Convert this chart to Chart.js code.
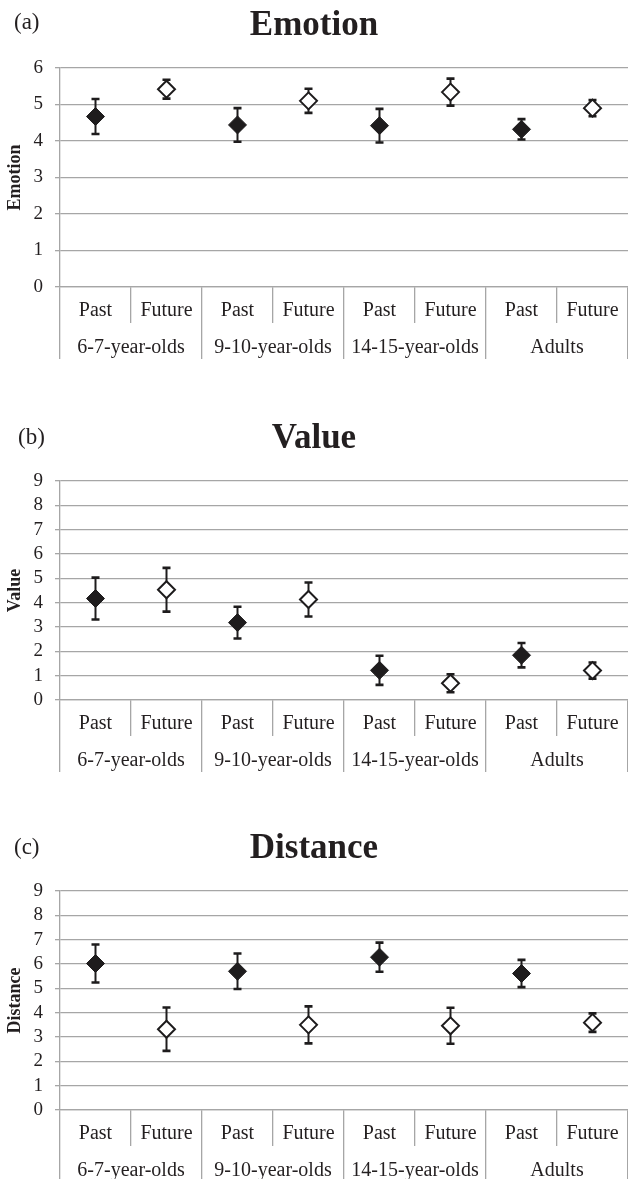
<!DOCTYPE html>
<html><head><meta charset="utf-8">
<script src="https://cdn.jsdelivr.net/npm/chart.js@4"></script>
<style>
html,body{margin:0;padding:0;background:#fff;width:628px;height:1179px;overflow:hidden;}
.panel{position:absolute;left:0;width:628px;height:359px;}
.tag{position:absolute;font-family:"Liberation Serif","Times New Roman",serif;font-size:23px;line-height:26px;color:#231f20;}
</style></head><body>
<div class="panel" style="top:0px"><canvas id="cA" width="628" height="359"></canvas></div>
<div class="panel" style="top:413px"><canvas id="cB" width="628" height="359"></canvas></div>
<div class="panel" style="top:823px"><canvas id="cC" width="628" height="359"></canvas></div>
<div class="tag" style="left:14px;top:9px">(a)</div>
<div class="tag" style="left:18px;top:424px">(b)</div>
<div class="tag" style="left:14px;top:834px">(c)</div>
<script>
// ---- data ----
const subLabels = ['Past','Future','Past','Future','Past','Future','Past','Future'];
const groupLabels = ['6-7-year-olds','9-10-year-olds','14-15-year-olds','Adults'];

const emotionPast = [4.67, 4.44, 4.42, 4.32];
const emotionPastErr = [0.48, 0.46, 0.46, 0.28];
const emotionFuture = [5.42, 5.10, 5.34, 4.90];
const emotionFutureErr = [0.26, 0.33, 0.37, 0.22];

const valuePast = [4.17, 3.18, 1.22, 1.84];
const valuePastErr = [0.86, 0.65, 0.60, 0.50];
const valueFuture = [4.53, 4.13, 0.69, 1.21];
const valueFutureErr = [0.90, 0.70, 0.37, 0.33];

const distancePast = [6.02, 5.70, 6.28, 5.61];
const distancePastErr = [0.78, 0.73, 0.60, 0.56];
const distanceFuture = [3.32, 3.50, 3.46, 3.59];
const distanceFutureErr = [0.89, 0.76, 0.74, 0.38];

// ---- styling ----
const FONT = '"Liberation Serif","Times New Roman",serif';
const TXT = '#231f20';
const GRID = '#a6a6a6';
const MARK = '#1e1c1d';

function spread(arr, slot) {
  return subLabels.map((_, i) => (i % 2 === slot ? arr[(i - slot) / 2] : null));
}

const errorBars = {
  id: 'errorBars',
  beforeDatasetsDraw(chart) {
    const ctx = chart.ctx, y = chart.scales.y;
    chart.data.datasets.forEach((ds, di) => {
      const meta = chart.getDatasetMeta(di);
      ds.errors.forEach((e, i) => {
        const v = ds.data[i];
        if (v == null || e == null) return;
        const x = meta.data[i].x;
        const yt = y.getPixelForValue(v + e), yb = y.getPixelForValue(v - e);
        ctx.save();
        ctx.strokeStyle = MARK;
        ctx.lineWidth = 2;
        ctx.beginPath(); ctx.moveTo(x, yt); ctx.lineTo(x, yb); ctx.stroke();
        ctx.lineWidth = 2.6;
        ctx.beginPath();
        ctx.moveTo(x - 4, yt); ctx.lineTo(x + 4, yt);
        ctx.moveTo(x - 4, yb); ctx.lineTo(x + 4, yb);
        ctx.stroke();
        ctx.restore();
      });
    });
  }
};

function fixBand(s) {
  s.height = 36;
  s.paddingLeft = 0;
  s.paddingRight = 0;
}

function makeChart(id, title, axisTitle, yMax, past, pastErr, future, futureErr) {
  new Chart(document.getElementById(id), {
    type: 'line',
    data: {
      labels: subLabels,
      datasets: [
        { label: 'Past', data: spread(past, 0), errors: spread(pastErr, 0), showLine: false,
          pointStyle: 'rectRot', pointRadius: 9, backgroundColor: MARK, borderColor: MARK, borderWidth: 1 },
        { label: 'Future', data: spread(future, 1), errors: spread(futureErr, 1), showLine: false,
          pointStyle: 'rectRot', pointRadius: 8.5, backgroundColor: '#ffffff', borderColor: MARK, borderWidth: 2 }
      ]
    },
    options: {
      responsive: false, animation: false, events: [],
      layout: { autoPadding: false, padding: { left: 0, right: 0, top: 0, bottom: 0 } },
      plugins: {
        legend: { display: false }, tooltip: { enabled: false },
        title: { display: true, text: title, color: TXT,
                 font: { family: FONT, size: 35, weight: 'bold' }, padding: { top: 5, bottom: 21 } }
      },
      scales: {
        x: { type: 'category', labels: subLabels, offset: true, position: 'bottom', weight: 0,
             afterFit: fixBand,
             grid: { offset: true, drawOnChartArea: false, drawTicks: true, tickLength: 36, color: GRID, lineWidth: 1.3 },
             border: { display: true, color: GRID, width: 1.3 },
             ticks: { autoSkip: false, maxRotation: 0, minRotation: 0, padding: -24, color: TXT, font: { family: FONT, size: 20 } } },
        x2: { type: 'category', labels: groupLabels, offset: true, position: 'bottom', weight: 1,
             afterFit: fixBand,
             grid: { offset: true, drawOnChartArea: false, drawTicks: true, tickLength: 36, color: GRID, lineWidth: 1.3 },
             border: { display: false },
             ticks: { autoSkip: false, maxRotation: 0, minRotation: 0, padding: -23, color: TXT, font: { family: FONT, size: 20 } } },
        y: { min: 0, max: yMax, position: 'left', afterFit(s) { s.width = 60; },
             ticks: { stepSize: 1, autoSkip: false, padding: 12, color: TXT, font: { family: FONT, size: 19 } },
             grid: { color: GRID, lineWidth: 1.3, tickLength: 5 },
             border: { color: GRID, width: 1.3 },
             title: { display: true, text: axisTitle, color: TXT, padding: { top: 5, bottom: 0 },
                      font: { family: FONT, size: 18, weight: 'bold' } } }
      }
    },
    plugins: [errorBars]
  });
}

makeChart('cA', 'Emotion', 'Emotion', 6, emotionPast, emotionPastErr, emotionFuture, emotionFutureErr);
makeChart('cB', 'Value', 'Value', 9, valuePast, valuePastErr, valueFuture, valueFutureErr);
makeChart('cC', 'Distance', 'Distance', 9, distancePast, distancePastErr, distanceFuture, distanceFutureErr);
</script>
</body></html>
